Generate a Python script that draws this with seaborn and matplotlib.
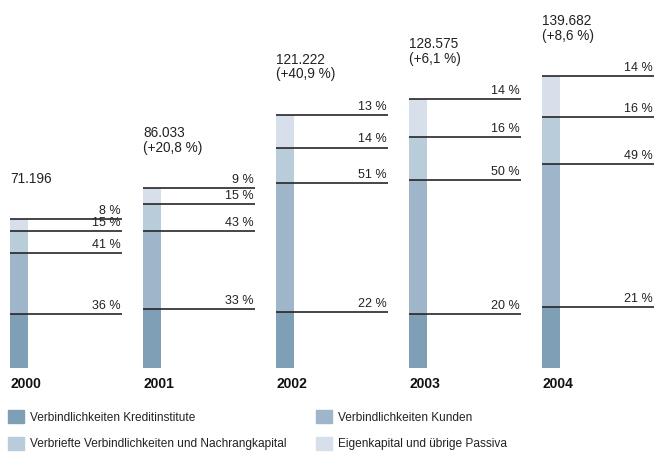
import matplotlib
matplotlib.use("Agg")
import matplotlib.pyplot as plt
import matplotlib.patches as mpatches
import seaborn as sns
import pandas as pd
import numpy as np

# data
years = ["2000", "2001", "2002", "2003", "2004"]
totals = [71196, 86033, 121222, 128575, 139682]
growth = [None, 20.8, 40.9, 6.1, 8.6]
segments = ["Verbindlichkeiten Kreditinstitute", "Verbindlichkeiten Kunden",
            "Verbriefte Verbindlichkeiten und Nachrangkapital",
            "Eigenkapital und übrige Passiva"]
kreditinstitute = [36, 33, 22, 20, 21]
kunden = [41, 43, 51, 50, 49]
verbriefte = [15, 15, 14, 16, 16]
eigenkapital = [8, 9, 13, 14, 14]
colors = ["#7f9fb6", "#9fb5c9", "#b8ccda", "#d7dfea"]

sns.set_theme(style="white")
plt.rcParams["font.family"] = ["Liberation Sans", "DejaVu Sans"]
plt.rcParams["font.size"] = 9

shares = np.array([kreditinstitute, kunden, verbriefte, eigenkapital], dtype=float)
cum = np.cumsum(shares, axis=0) / 100.0
tot_k = np.array(totals) / 1000.0

W, H = 657, 457
fig = plt.figure(figsize=(W / 100, H / 100), dpi=100)
px_per_k = 2.09
bottom_px = 89
ax = fig.add_axes([0, bottom_px / H, 1, (H - bottom_px) / H])

bar_w = 0.135
line_len = 0.842
slot_px = 133.0

# stacked bars: draw cumulative heights from the top segment down
for s in range(3, -1, -1):
    df = pd.DataFrame({"year": years, "value": cum[s] * tot_k})
    sns.barplot(data=df, x="year", y="value", color=colors[s], width=bar_w,
                saturation=1, ax=ax, linewidth=0, errorbar=None)

ax.set_xlim(-(19 / slot_px), (W - 19) / slot_px)
ax.set_ylim(0, (H - bottom_px) / px_per_k)
ax.axis("off")

for i, yr in enumerate(years):
    x0 = i - bar_w / 2
    x1 = x0 + line_len
    for s in range(4):
        y = cum[s, i] * tot_k[i]
        ax.hlines(y, x0, x1, color="#262626", lw=1.2, zorder=5)
        ax.annotate(f"{int(shares[s, i])} %", xy=(x1, y), xytext=(-1, 1.5),
                    textcoords="offset points", ha="right", va="bottom",
                    color="#222222")
    label = f"{totals[i]:,}".replace(",", ".")
    if growth[i] is not None:
        label += "\n(+" + f"{growth[i]:.1f}".replace(".", ",") + " %)"
    ax.annotate(label, xy=(x0, tot_k[i]), xytext=(0, 24),
                textcoords="offset points", ha="left", va="bottom",
                color="#222222", fontsize=9.8, linespacing=1.05)
    ax.annotate(yr, xy=(x0, 0), xytext=(0, -6.5), textcoords="offset points",
                ha="left", va="top", fontweight="bold", fontsize=10,
                color="#111111")

handles = [mpatches.Patch(color=c, label=l) for c, l in zip(colors, segments)]
leg_kw = dict(frameon=False, handlelength=1.35, handleheight=1.35,
              handletextpad=0.45, labelspacing=1.08, borderaxespad=0,
              borderpad=0, fontsize=8.6, labelcolor="#222222")
fig.legend(handles=[handles[0], handles[2]], loc="upper left",
           bbox_to_anchor=(8 / W, 1 - 410 / H), **leg_kw)
fig.legend(handles=[handles[1], handles[3]], loc="upper left",
           bbox_to_anchor=(316 / W, 1 - 410 / H), **leg_kw)

fig.savefig("out.png", dpi=100)
